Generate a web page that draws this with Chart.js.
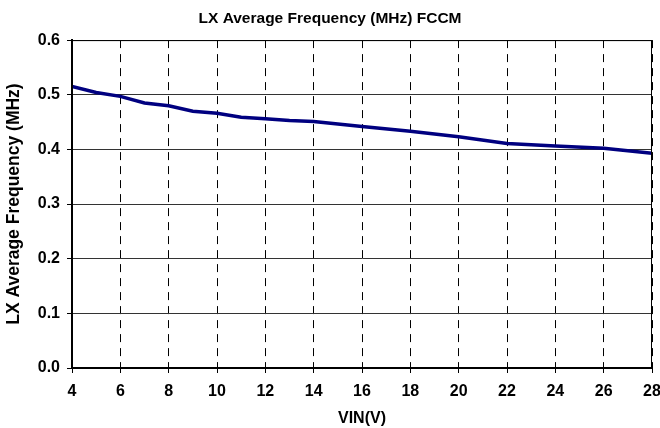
<!DOCTYPE html>
<html>
<head>
<meta charset="utf-8">
<script src="https://cdn.jsdelivr.net/npm/chart.js@4.4.0/dist/chart.umd.min.js"></script>
<style>
  body { margin: 0; background: #fff; }
  #wrap { width: 660px; height: 428px; }
</style>
</head>
<body>
<div id="wrap"><canvas id="Chart" width="660" height="428"></canvas></div>
<script>
// VIN (V) and measured LX frequency (MHz)
const vin = [4, 5, 6, 7, 8, 9, 10, 11, 12, 13, 14, 16, 18, 20, 22, 24, 26, 28];
const freq = [0.515, 0.504, 0.497, 0.485, 0.480, 0.470, 0.466, 0.459, 0.456, 0.453, 0.451, 0.442, 0.433, 0.423, 0.411, 0.406, 0.402, 0.393];
const yTicks = [0.0, 0.1, 0.2, 0.3, 0.4, 0.5, 0.6];

const ctx = document.getElementById('Chart').getContext('2d');
const fam = 'Liberation Sans, Arial';

// black frame round the plot area
const frame = {
    id: 'frame',
    afterDraw(chart) {
        const a = chart.chartArea;
        const c = chart.ctx;
        c.save();
        c.strokeStyle = '#000';
        c.lineWidth = 1;
        c.strokeRect(a.left + 0.5, a.top + 0.5, a.right - a.left - 1, a.bottom - a.top);
        c.restore();
    }
};

const myChart = new Chart(ctx, {
    type: 'line',
    data: {
        datasets: [{
            label: 'LX Average Frequency',
            data: vin.map((v, i) => ({ x: v, y: freq[i] })),
            borderColor: '#000080',
            borderWidth: 3.5,
            pointRadius: 0,
            tension: 0,
            fill: false
        }]
    },
    options: {
        responsive: false,
        animation: false,
        layout: { padding: { left: 0, right: 0, top: 0, bottom: 0 } },
        plugins: {
            legend: { display: false },
            tooltip: { enabled: false },
            title: {
                display: true,
                text: 'LX Average Frequency (MHz) FCCM',
                color: '#000',
                font: { family: fam, size: 15.5, weight: 'bold' },
                padding: { top: 9, bottom: 12.5 }
            }
        },
        scales: {
            x: {
                type: 'linear',
                min: 4,
                max: 28,
                afterFit(s) {
                    s.height = 60;
                    s.paddingLeft = 0;
                    s.paddingRight = 8; // let the "28" label run to the edge
                },
                ticks: {
                    stepSize: 2,
                    color: '#000',
                    padding: 9,
                    maxRotation: 0,
                    font: { family: fam, size: 16, weight: 'bold' }
                },
                grid: { color: '#000', tickLength: 5, tickColor: '#000' },
                border: { color: '#000', width: 2, dash: [8, 6] },
                title: {
                    display: true,
                    text: 'VIN(V)',
                    color: '#000',
                    padding: { top: 2, bottom: 0 },
                    font: { family: fam, size: 16, weight: 'bold' }
                }
            },
            y: {
                min: 0,
                max: 0.6,
                afterFit(s) { s.width = 72; },
                afterBuildTicks(s) { s.ticks = yTicks.map(v => ({ value: v })); },
                ticks: {
                    color: '#000',
                    padding: 7,
                    callback: v => v.toFixed(1),
                    font: { family: fam, size: 16, weight: 'bold' }
                },
                grid: { color: '#333', tickLength: 5, tickColor: '#000' },
                border: { color: '#000', width: 2 },
                title: {
                    display: true,
                    text: 'LX Average Frequency (MHz)',
                    color: '#000',
                    padding: { top: 4, bottom: 2 },
                    font: { family: fam, size: 17.5, weight: 'bold' }
                }
            }
        }
    },
    plugins: [frame]
});
</script>
</body>
</html>
